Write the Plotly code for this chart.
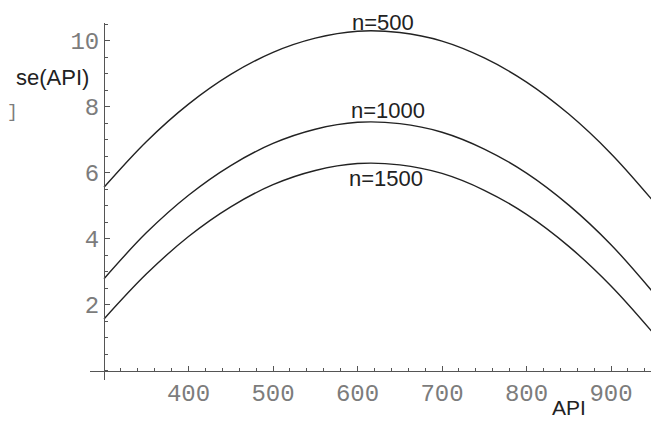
import plotly.graph_objects as go

api = [300, 350, 400, 450, 500, 550, 600, 650, 700, 750, 800, 850, 900, 950]
se_n500 = [5.56, 6.94, 8.08, 8.98, 9.65, 10.08, 10.29, 10.25, 9.99, 9.48, 8.75, 7.78, 6.58, 5.14]
se_n1000 = [2.79, 4.18, 5.32, 6.22, 6.89, 7.32, 7.53, 7.49, 7.23, 6.72, 5.99, 5.02, 3.82, 2.37]
se_n1500 = [1.57, 2.93, 4.07, 4.97, 5.64, 6.07, 6.28, 6.24, 5.98, 5.47, 4.74, 3.77, 2.57, 1.14]
series_names = ["n=500", "n=1000", "n=1500"]
x_ticks = [400, 500, 600, 700, 800, 900]
y_ticks = [2, 4, 6, 8, 10]

# page body has an 8px margin, so the figure is drawn 8px in from the top-left
OFF = 8
W, H = 659 - OFF, 421 - OFF
ML, MR, MT, MB = 90 - OFF, 1, 23 - OFF, 41
PW, PH = W - ML - MR, H - MT - MB
xmin, xmax = 283.4, 955.6
ymin, ymax = -0.28, 10.54
x_origin, y_origin = 300, 0

def px(x):
    return (x - OFF - ML) / PW

def py(y):
    return (H - MB - (y - OFF)) / PH

fig = go.Figure()
for name, ys in zip(series_names, [se_n500, se_n1000, se_n1500]):
    fig.add_trace(go.Scatter(x=api, y=ys, mode="lines", name=name,
                             line=dict(color="#222222", width=1.4, shape="spline"),
                             showlegend=False))

tickfont = dict(family="Liberation Mono, Courier New, monospace", size=24, color="#7c7c7c")
axcol = "#555555"

fig.update_layout(
    width=W, height=H,
    margin=dict(l=ML, r=MR, t=MT, b=MB),
    plot_bgcolor="white", paper_bgcolor="white",
    xaxis=dict(range=[xmin, xmax], showgrid=False, zeroline=False, automargin=False,
               showline=True, linecolor=axcol, linewidth=1,
               anchor="free", position=(y_origin - ymin) / (ymax - ymin),
               tickvals=x_ticks, ticks="inside", ticklen=5, tickcolor=axcol,
               tickfont=tickfont,
               minor=dict(dtick=20, tick0=300, ticks="inside", ticklen=3, tickcolor=axcol)),
    yaxis=dict(range=[ymin, ymax], showgrid=False, zeroline=False, automargin=False,
               showline=True, linecolor=axcol, linewidth=1,
               anchor="free", position=(x_origin - xmin) / (xmax - xmin),
               tickvals=y_ticks, ticks="inside", ticklen=5, tickcolor=axcol,
               tickfont=tickfont,
               minor=dict(dtick=0.5, tick0=0, ticks="inside", ticklen=3, tickcolor=axcol)),
)

labfont = dict(family="Liberation Sans, Arial, sans-serif", size=22, color="#222222")
label_pos = [(383, 22), (388, 110), (386, 178)]
for name, (lx, ly) in zip(series_names, label_pos):
    fig.add_annotation(xref="paper", yref="paper", x=px(lx), y=py(ly), text=name,
                       showarrow=False, font=labfont, xanchor="center", yanchor="middle")

fig.add_annotation(xref="paper", yref="paper", x=px(52), y=py(77), text="se(API)",
                   showarrow=False, font=labfont, xanchor="center", yanchor="middle")
fig.add_annotation(xref="paper", yref="paper", x=px(569), y=py(420), text="API",
                   showarrow=False, font=dict(family="Liberation Sans, Arial, sans-serif",
                                              size=21, color="#222222"),
                   xanchor="center", yanchor="bottom", yshift=-1)
fig.add_annotation(xref="paper", yref="paper", x=px(12), y=py(112), text="]",
                   showarrow=False,
                   font=dict(family="Liberation Mono, monospace", size=18, color="#7c7c7c"),
                   xanchor="center", yanchor="middle")

fig.write_html("out.html")
